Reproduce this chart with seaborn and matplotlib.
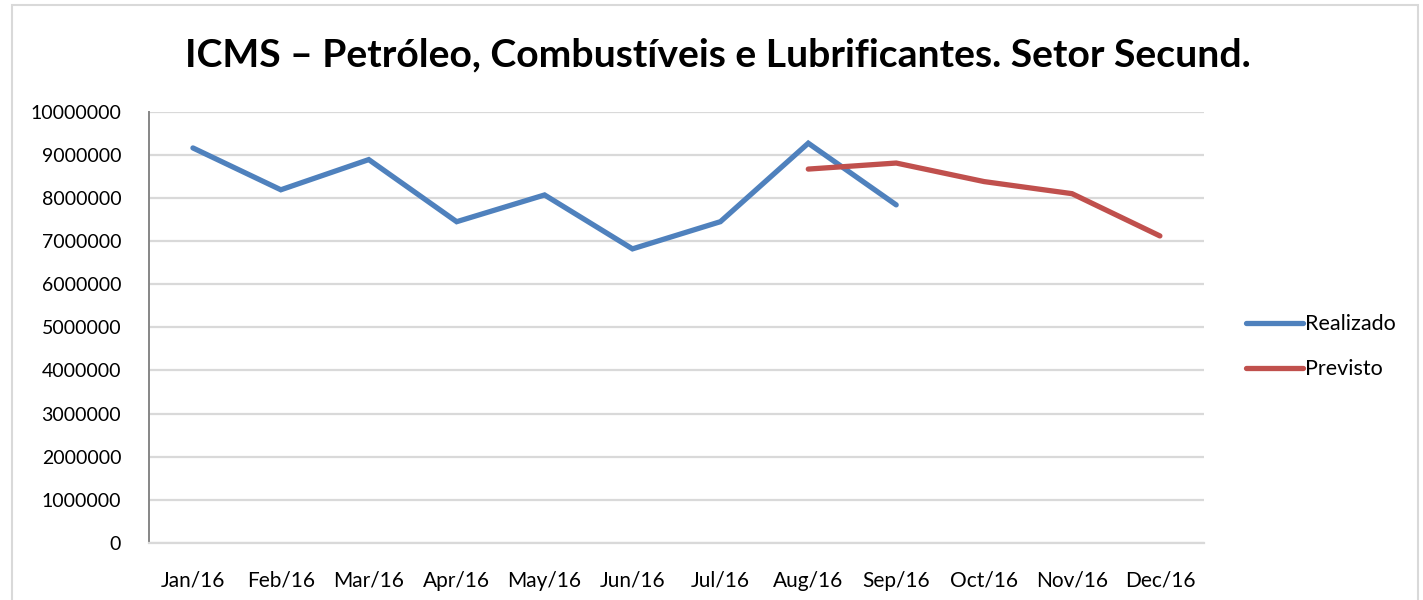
import matplotlib
matplotlib.use("Agg")
import matplotlib.pyplot as plt
import numpy as np
import pandas as pd
import seaborn as sns
from matplotlib.patches import Rectangle

months = ["Jan/16", "Feb/16", "Mar/16", "Apr/16", "May/16", "Jun/16",
          "Jul/16", "Aug/16", "Sep/16", "Oct/16", "Nov/16", "Dec/16"]
realizado = [9160000, 8190000, 8890000, 7450000, 8070000, 6820000,
             7450000, 9270000, 7840000, np.nan, np.nan, np.nan]
previsto = [np.nan, np.nan, np.nan, np.nan, np.nan, np.nan,
            np.nan, 8670000, 8810000, 8380000, 8100000, 7120000]
series_names = ["Realizado", "Previsto"]
colors = ["#4F81BD", "#C0504D"]
y_ticks = list(range(0, 10000001, 1000000))

sns.set_theme(style="white")
plt.rcParams["font.family"] = ["Lato", "DejaVu Sans"]
plt.rcParams["text.color"] = "#000000"

pos = list(range(len(months)))
df = pd.DataFrame({
    "pos": pos * 2,
    "value": realizado + previsto,
    "serie": [series_names[0]] * len(months) + [series_names[1]] * len(months),
}).dropna()

fig = plt.figure(figsize=(14.23, 6.0), dpi=100)
ax = fig.add_axes([0.1047, 0.095, 0.7413, 0.7188])

sns.lineplot(data=df, x="pos", y="value", hue="serie", hue_order=series_names,
             palette=colors, linewidth=3.8, ax=ax, sort=False)
for line in ax.get_lines():
    line.set_solid_capstyle("round")
    line.set_solid_joinstyle("miter")

ax.set_xlim(-0.5, len(months) - 0.5)
ax.set_ylim(0, 10000000)
ax.set_yticks(y_ticks)
ax.set_yticklabels([str(v) for v in y_ticks])
ax.set_xticks(pos)
ax.set_xticklabels(months)
ax.tick_params(axis="both", colors="#000000", length=0)
ax.tick_params(axis="y", pad=20, labelsize=14)
ax.tick_params(axis="x", pad=20, labelsize=15)
ax.grid(axis="y", color="#D9D9D9", linewidth=1.6)
ax.set_axisbelow(True)
ax.set_xlabel("")
ax.set_ylabel("")
for s in ["top", "right"]:
    ax.spines[s].set_visible(False)
ax.spines["left"].set_color("#868686")
ax.spines["left"].set_linewidth(1.4)
ax.spines["bottom"].set_color("#D9D9D9")
ax.spines["bottom"].set_linewidth(1.6)

leg = ax.legend(loc="center left", bbox_to_anchor=(1.022, 0.455), frameon=False,
                fontsize=15.5, handlelength=2.65, handletextpad=0.05, labelspacing=1.15)
for h in leg.get_lines():
    h.set_linewidth(3.8)
    h.set_solid_capstyle("round")
for t in leg.get_texts():
    t.set_color("#000000")

fig.text(0.5045, 0.908, "ICMS \u2013 Petróleo, Combustíveis e Lubrificantes. Setor Secund.",
         ha="center", va="center", fontsize=28.2, fontweight="bold", color="#000000")

fig.patches.append(Rectangle((12 / 1423, -0.1), 1406 / 1423, 1.1 - 5 / 600,
                             transform=fig.transFigure, fill=False,
                             edgecolor="#D9D9D9", linewidth=1.5))

fig.savefig("out.png", dpi=100)
